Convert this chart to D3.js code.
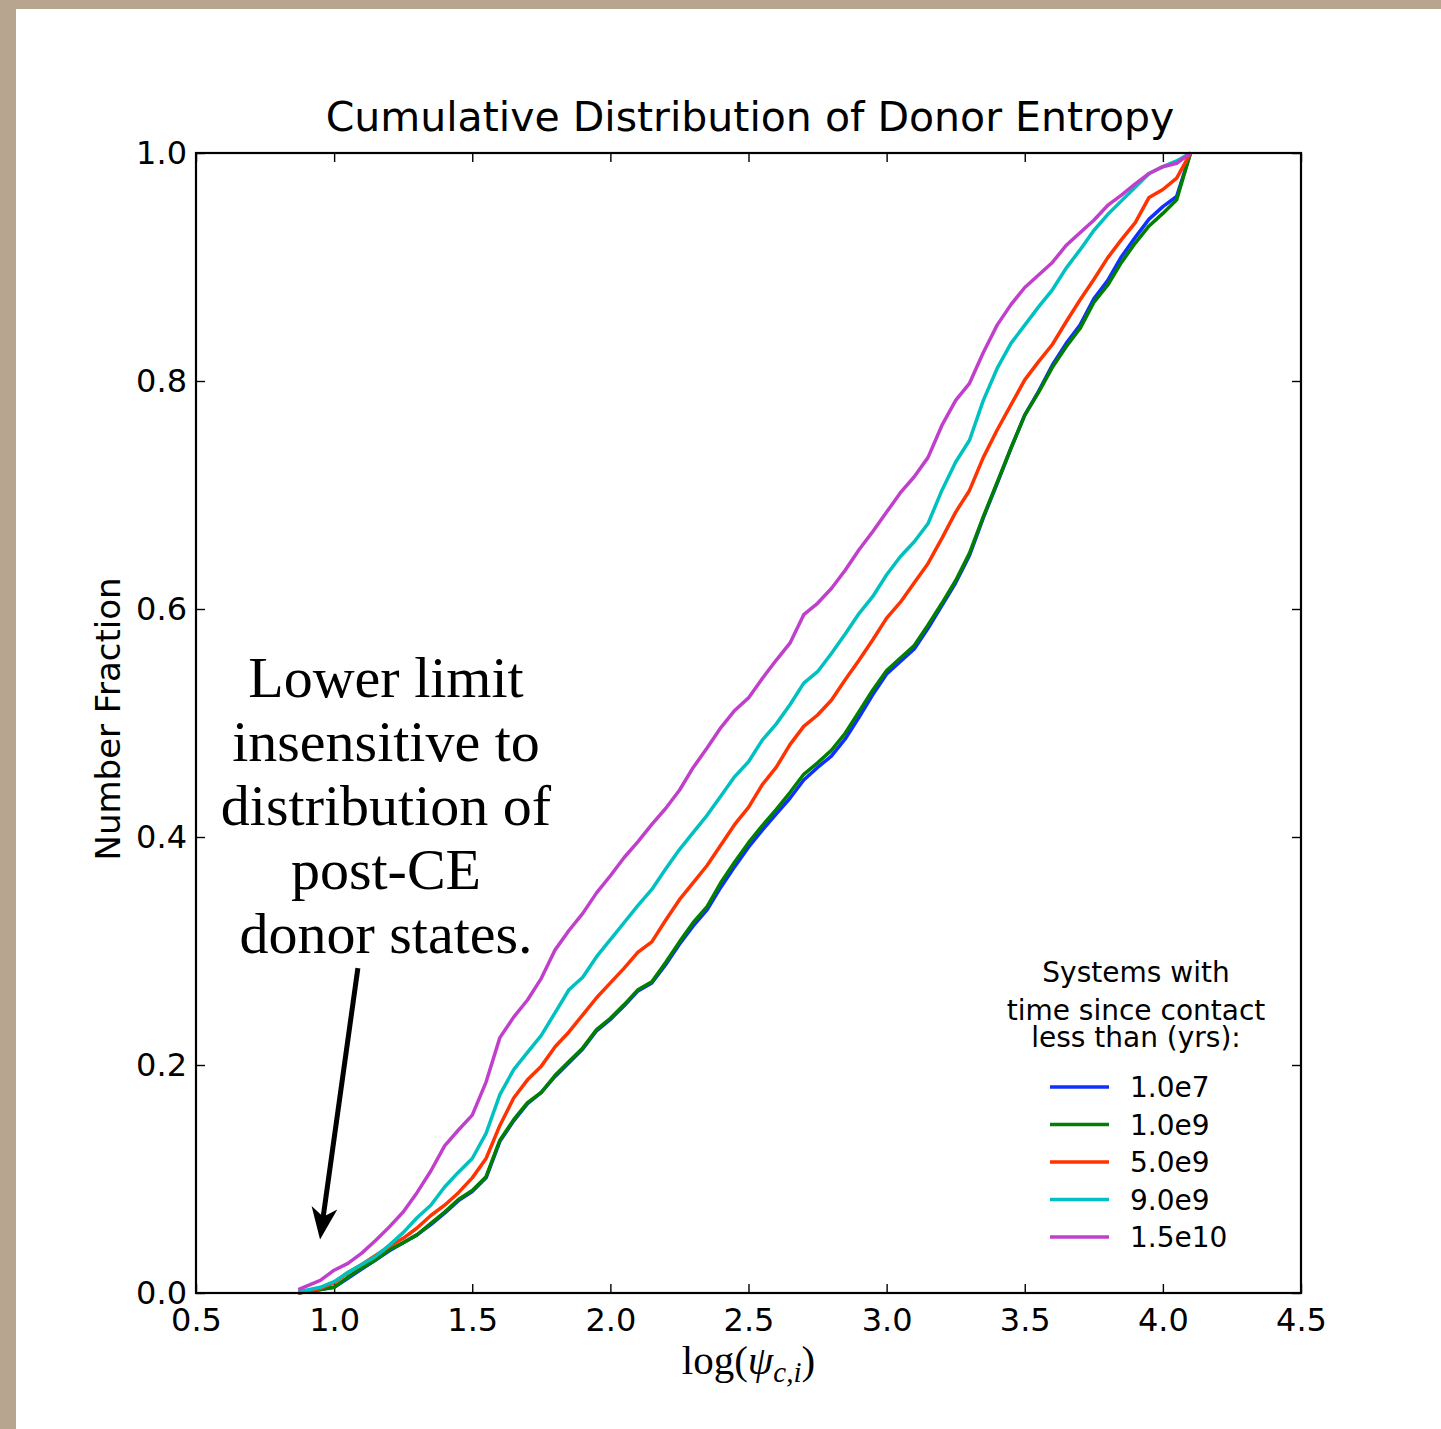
<!DOCTYPE html>
<html>
<head>
<meta charset="utf-8">
<script src="https://cdn.jsdelivr.net/npm/d3@7"></script>
<style>
  body { margin: 0; background: #b8a58f; }
  svg { display: block; }
</style>
</head>
<body>
<svg id="chart"></svg>
<script>
// log(psi) grid shared by all curves
const logPsi = [0.87, 0.95, 1.00, 1.05, 1.10, 1.15, 1.20, 1.25, 1.30, 1.35, 1.40, 1.45, 1.50,
  1.55, 1.60, 1.65, 1.70, 1.75, 1.80, 1.85, 1.90, 1.95, 2.00, 2.05, 2.10, 2.15, 2.20, 2.25,
  2.30, 2.35, 2.40, 2.45, 2.50, 2.55, 2.60, 2.65, 2.70, 2.75, 2.80, 2.85, 2.90, 2.95, 3.00,
  3.05, 3.10, 3.15, 3.20, 3.25, 3.30, 3.35, 3.40, 3.45, 3.50, 3.55, 3.60, 3.65, 3.70, 3.75,
  3.80, 3.85, 3.90, 3.95, 4.00, 4.05, 4.10]

const frac1e7 = [0.000, 0.003, 0.005, 0.013, 0.021, 0.029, 0.037, 0.044, 0.051, 0.060, 0.070,
  0.081, 0.089, 0.101, 0.133, 0.151, 0.166, 0.176, 0.190, 0.202, 0.214, 0.230, 0.240, 0.252,
  0.265, 0.272, 0.288, 0.306, 0.322, 0.336, 0.356, 0.374, 0.391, 0.406, 0.420, 0.434, 0.450,
  0.461, 0.471, 0.486, 0.505, 0.525, 0.543, 0.554, 0.565, 0.583, 0.603, 0.623, 0.647, 0.680,
  0.710, 0.741, 0.770, 0.791, 0.814, 0.833, 0.849, 0.872, 0.888, 0.909, 0.926, 0.942, 0.953,
  0.962, 1.000]

const frac1e9 = [0.000, 0.003, 0.005, 0.014, 0.022, 0.029, 0.038, 0.044, 0.051, 0.061, 0.071,
  0.082, 0.090, 0.102, 0.134, 0.152, 0.167, 0.176, 0.191, 0.203, 0.215, 0.231, 0.241, 0.253,
  0.266, 0.273, 0.290, 0.308, 0.325, 0.339, 0.360, 0.378, 0.395, 0.410, 0.424, 0.439, 0.455,
  0.465, 0.476, 0.491, 0.510, 0.529, 0.546, 0.557, 0.568, 0.586, 0.605, 0.625, 0.649, 0.681,
  0.711, 0.741, 0.770, 0.790, 0.812, 0.830, 0.846, 0.869, 0.884, 0.904, 0.921, 0.936, 0.947,
  0.959, 1.000]

const frac5e9 = [0.000, 0.004, 0.009, 0.018, 0.025, 0.033, 0.041, 0.048, 0.057, 0.068, 0.077,
  0.088, 0.101, 0.118, 0.147, 0.171, 0.187, 0.199, 0.216, 0.229, 0.244, 0.259, 0.272, 0.285,
  0.299, 0.308, 0.327, 0.345, 0.360, 0.375, 0.393, 0.411, 0.426, 0.446, 0.461, 0.481, 0.497,
  0.507, 0.520, 0.538, 0.555, 0.573, 0.592, 0.606, 0.623, 0.640, 0.662, 0.685, 0.704, 0.733,
  0.757, 0.779, 0.801, 0.817, 0.832, 0.852, 0.871, 0.889, 0.908, 0.924, 0.939, 0.961, 0.968,
  0.978, 1.000]

const frac9e9 = [0.001, 0.005, 0.010, 0.018, 0.025, 0.032, 0.042, 0.053, 0.066, 0.077, 0.093,
  0.106, 0.118, 0.140, 0.174, 0.196, 0.211, 0.226, 0.246, 0.266, 0.277, 0.295, 0.310, 0.325,
  0.340, 0.354, 0.372, 0.389, 0.404, 0.419, 0.436, 0.453, 0.466, 0.485, 0.499, 0.516, 0.535,
  0.545, 0.561, 0.578, 0.596, 0.611, 0.630, 0.646, 0.659, 0.675, 0.704, 0.729, 0.748, 0.783,
  0.811, 0.833, 0.849, 0.865, 0.880, 0.899, 0.915, 0.932, 0.946, 0.958, 0.970, 0.982, 0.988,
  0.993, 1.000]

const frac15e10 = [0.003, 0.011, 0.020, 0.026, 0.035, 0.046, 0.058, 0.071, 0.088, 0.107, 0.129,
  0.143, 0.156, 0.185, 0.224, 0.242, 0.257, 0.276, 0.301, 0.318, 0.333, 0.351, 0.366, 0.382,
  0.396, 0.411, 0.425, 0.441, 0.461, 0.478, 0.496, 0.511, 0.522, 0.539, 0.555, 0.570, 0.595,
  0.605, 0.618, 0.634, 0.652, 0.668, 0.685, 0.702, 0.716, 0.733, 0.761, 0.783, 0.798, 0.825,
  0.849, 0.867, 0.882, 0.893, 0.904, 0.919, 0.930, 0.941, 0.954, 0.963, 0.973, 0.982, 0.988,
  0.991, 1.000]

const seriesLabels = ['1.0e7', '1.0e9', '5.0e9', '9.0e9', '1.5e10']
const seriesValues = [frac1e7, frac1e9, frac5e9, frac9e9, frac15e10]
const seriesColors = ['#1030ff', '#008000', '#ff3300', '#00c0c0', '#c040cc']

const xTicks = [0.5, 1.0, 1.5, 2.0, 2.5, 3.0, 3.5, 4.0, 4.5]
const yTicks = [0.0, 0.2, 0.4, 0.6, 0.8, 1.0]

const legendTitle = ['Systems with', 'time since contact', 'less than (yrs):']
const noteLines = ['Lower limit', 'insensitive to', 'distribution of', 'post-CE', 'donor states.']

const W = 1441
const H = 1429
const margin = {left: 196, right: 140, top: 153, bottom: 136}
const sans = 'DejaVu Sans, sans-serif'
const serif = 'Liberation Serif, DejaVu Serif, serif'

const svg = d3.select('#chart')
  .attr('width', W)
  .attr('height', H)

// paper texture behind the white sheet
const defs = svg.append('defs')
const grain = defs.append('filter').attr('id', 'grain')
grain.append('feTurbulence')
  .attr('type', 'fractalNoise')
  .attr('baseFrequency', 0.9)
  .attr('numOctaves', 2)
  .attr('seed', 3)
grain.append('feColorMatrix')
  .attr('values', '0 0 0 0 0.45  0 0 0 0 0.38  0 0 0 0 0.30  0 0 0 0.35 0')

svg.append('rect').attr('width', W).attr('height', H).attr('fill', '#b8a58f')
svg.append('rect').attr('width', W).attr('height', H).attr('filter', 'url(#grain)')
svg.append('rect')
  .attr('x', 16).attr('y', 9)
  .attr('width', W).attr('height', H)
  .attr('fill', '#ffffff')

const x = d3.scaleLinear().domain([0.5, 4.5]).range([margin.left, W - margin.right])
const y = d3.scaleLinear().domain([0, 1]).range([H - margin.bottom, margin.top])

// axes, ticks pointing inward
const axisB = d3.axisBottom(x).tickValues(xTicks).tickFormat(d3.format('.1f'))
  .tickSize(-9).tickPadding(15)
const axisT = d3.axisTop(x).tickValues(xTicks).tickFormat('').tickSize(-9)
const axisL = d3.axisLeft(y).tickValues(yTicks).tickFormat(d3.format('.1f'))
  .tickSize(-9).tickPadding(9)
const axisR = d3.axisRight(y).tickValues(yTicks).tickFormat('').tickSize(-9)

const axes = [
  [axisB, `translate(0, ${y(0)})`],
  [axisT, `translate(0, ${y(1)})`],
  [axisL, `translate(${x(0.5)}, 0)`],
  [axisR, `translate(${x(4.5)}, 0)`]
]
axes.forEach(([axis, tr]) => {
  const g = svg.append('g').attr('transform', tr).call(axis)
  g.select('.domain').remove()
  g.selectAll('.tick line').attr('stroke', '#000').attr('stroke-width', 1.4)
  g.selectAll('.tick text')
    .attr('fill', '#000')
    .attr('font-family', sans)
    .attr('font-size', 32)
})

// curves
const line = d3.line()
  .x((d, i) => x(logPsi[i]))
  .y(d => y(d))

svg.append('g')
  .attr('id', 'curves')
  .selectAll('path')
  .data(seriesValues)
  .join('path')
  .attr('d', d => line(d))
  .attr('fill', 'none')
  .attr('stroke', (d, i) => seriesColors[i])
  .attr('stroke-width', 3.5)
  .attr('stroke-linejoin', 'round')

svg.append('rect')
  .attr('x', x(0.5)).attr('y', y(1))
  .attr('width', x(4.5) - x(0.5))
  .attr('height', y(0) - y(1))
  .attr('fill', 'none')
  .attr('stroke', '#000')
  .attr('stroke-width', 2.2)

// title and axis labels
svg.append('text')
  .attr('x', 750)
  .attr('y', 131)
  .attr('text-anchor', 'middle')
  .attr('font-family', sans)
  .attr('font-size', 41)
  .text('Cumulative Distribution of Donor Entropy')

svg.append('text')
  .attr('transform', `translate(120, ${(y(0) + y(1)) / 2 - 4}) rotate(-90)`)
  .attr('text-anchor', 'middle')
  .attr('font-family', sans)
  .attr('font-size', 34)
  .text('Number Fraction')

const xlab = svg.append('text')
  .attr('x', (x(0.5) + x(4.5)) / 2)
  .attr('y', 1374)
  .attr('text-anchor', 'middle')
  .attr('font-family', serif)
  .attr('font-size', 41)
xlab.append('tspan').text('log(')
xlab.append('tspan').attr('font-style', 'italic').text('ψ')
xlab.append('tspan').attr('font-style', 'italic').attr('font-size', 29).attr('dy', 8).text('c,i')
xlab.append('tspan').attr('dy', -8).text(')')

// annotation with arrow
svg.append('g')
  .selectAll('text')
  .data(noteLines)
  .join('text')
  .attr('x', 386)
  .attr('y', (d, i) => 697 + i * 64)
  .attr('text-anchor', 'middle')
  .attr('font-family', serif)
  .attr('font-size', 58)
  .text(d => d)

const tail = [x(1.086), y(0.285)]
const tip = [x(0.949), y(0.047)]
const ang = Math.atan2(tip[1] - tail[1], tip[0] - tail[0])
const headLen = 27
const headHalf = 13
const base = [tip[0] - headLen * Math.cos(ang), tip[1] - headLen * Math.sin(ang)]
svg.append('line')
  .attr('x1', tail[0]).attr('y1', tail[1])
  .attr('x2', base[0] + 6 * Math.cos(ang)).attr('y2', base[1] + 6 * Math.sin(ang))
  .attr('stroke', '#000')
  .attr('stroke-width', 5)
svg.append('path')
  .attr('d', d3.line()([
    tip,
    [base[0] - headHalf * Math.sin(ang) - 5 * Math.cos(ang), base[1] + headHalf * Math.cos(ang) - 5 * Math.sin(ang)],
    [base[0] + 4 * Math.cos(ang), base[1] + 4 * Math.sin(ang)],
    [base[0] + headHalf * Math.sin(ang) - 5 * Math.cos(ang), base[1] - headHalf * Math.cos(ang) - 5 * Math.sin(ang)]
  ]) + 'Z')
  .attr('fill', '#000')

// legend
const legend = svg.append('g').attr('id', 'legend')
legend.selectAll('text.title')
  .data(legendTitle)
  .join('text')
  .attr('class', 'title')
  .attr('x', 1136)
  .attr('y', (d, i) => [982, 1020, 1047][i])
  .attr('text-anchor', 'middle')
  .attr('font-family', sans)
  .attr('font-size', 28)
  .text(d => d)

const entries = legend.selectAll('g.entry')
  .data(seriesLabels)
  .join('g')
  .attr('class', 'entry')
  .attr('transform', (d, i) => `translate(1050, ${1087 + i * 37.5})`)
entries.append('line')
  .attr('x1', 0).attr('x2', 59)
  .attr('stroke', (d, i) => seriesColors[i])
  .attr('stroke-width', 3.5)
entries.append('text')
  .attr('x', 80)
  .attr('dy', '0.36em')
  .attr('font-family', sans)
  .attr('font-size', 28)
  .text(d => d)
</script>
</body>
</html>
